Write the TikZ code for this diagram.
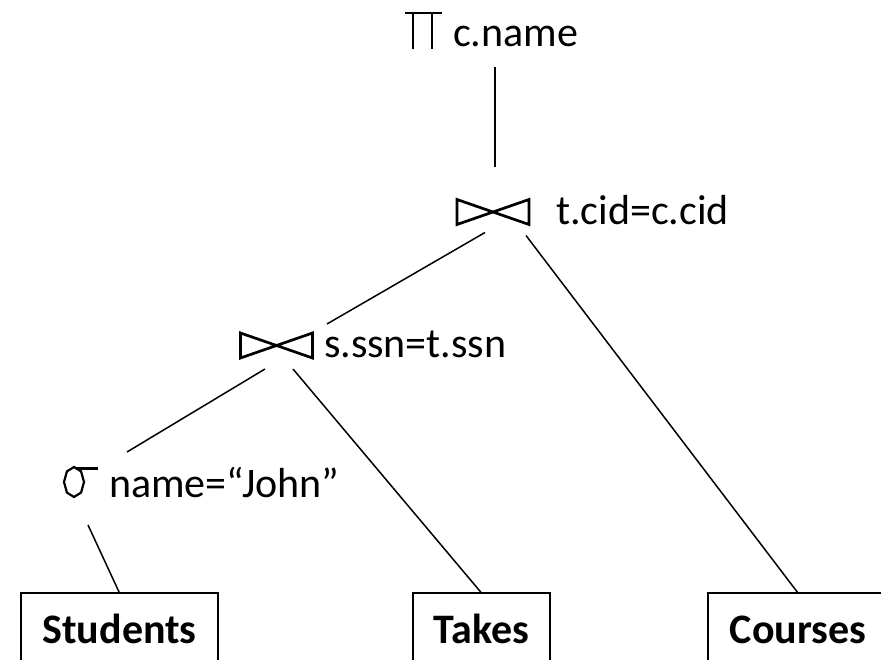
\documentclass[tikz,border=0pt]{standalone}
\usepackage{fontspec}
\setmainfont{Carlito}
\begin{document}
\begin{tikzpicture}[x=1pt, y=-1pt, every node/.style={inner sep=0pt, outer sep=0pt, font=\fontsize{42}{50}\selectfont}]
	\tikzstyle{cond} = [anchor=base west]
	\tikzstyle{opbox} = [minimum width=72pt, minimum height=25pt]
	\tikzstyle{relation} = [draw, line width=1.5pt, anchor=north, minimum height=74pt, text height=26pt, text depth=0pt, font=\fontsize{42}{50}\selectfont\bfseries]
	\tikzstyle{symbol} = [line width=2.7pt]
	\tikzstyle{link} = [line width=1.5pt]
	
	\useasboundingbox (0,0) rectangle (881,660);
	
	% operators
	\node[minimum width=37pt, minimum height=36pt] (proj) at (423.5,31) {};
	\node[cond] (projtxt) at (453,47) {c.name};
	\node[opbox] (j1) at (493,212) {};
	\node[cond] (j1txt) at (556,225) {t.cid=c.cid};
	\node[opbox] (j2) at (276.5,345.5) {};
	\node[cond] (j2txt) at (324,357) {s.ssn=t.ssn};
	\node[minimum width=20pt, minimum height=31pt] (sel) at (74,482) {};
	\node[cond] (seltxt) at (109,497) {name=“John”};
	
	% relations
	\node[relation, minimum width=197pt] (students) at (119.5,593) {Students};
	\node[relation, minimum width=137pt] (takes) at (481.5,593) {Takes};
	\node[relation, minimum width=180pt] (courses) at (798,593) {Courses};
	
	% symbols
	\draw[symbol] (proj.north west) -- (proj.north east);
	\draw[symbol] ([xshift=8pt]proj.north west) -- ([xshift=8pt]proj.south west);
	\draw[symbol] ([xshift=-10pt]proj.north east) -- ([xshift=-10pt]proj.south east);
	\draw[symbol] (j1.north west) -- (j1.south east) -- (j1.north east) -- (j1.south west) -- cycle;
	\draw[symbol] (j2.north west) -- (j2.south east) -- (j2.north east) -- (j2.south west) -- cycle;
	\draw[symbol, line width=2.2pt] ([shift={(0:10 and 15)}]sel.center) \foreach \a in {45,90,...,315} {-- ([shift={(\a:10 and 15)}]sel.center)} -- cycle;
	\draw[symbol] ([xshift=2pt, yshift=-2pt]sel.north) -- ++(22,0);
	
	% tree
	\draw[symbol] ([xshift=2pt, yshift=-20pt]projtxt.south -| j1.north) -- ([xshift=2pt, yshift=32pt]j1.north);
	\draw[link] ([xshift=-8pt, yshift=-8pt]j1.south) -- ([xshift=14.5pt, yshift=9pt]j2.north east);
	\draw[link] ([xshift=-3pt, yshift=-11pt]j1.south east) -- (courses.north);
	\draw[link] ([xshift=-11.5pt, yshift=-11pt]j2.south) -- ([xshift=43pt, yshift=14.5pt]sel.north east);
	\draw[link] ([xshift=16.5pt, yshift=-11pt]j2.south) -- (takes.north);
	\draw[link] ([xshift=14pt, yshift=-27.5pt]sel.south) -- (students.north);
\end{tikzpicture}
\end{document}
